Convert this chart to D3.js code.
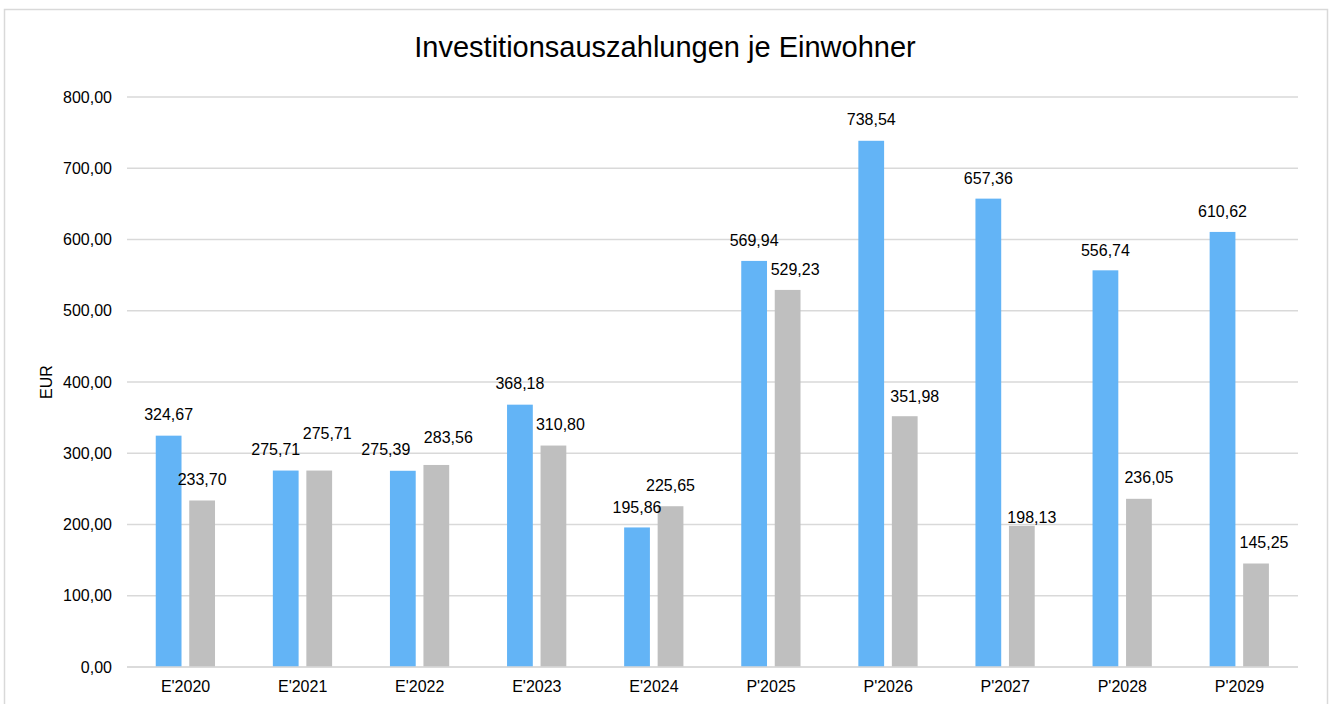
<!DOCTYPE html>
<html>
<head>
<meta charset="utf-8">
<script src="https://cdn.jsdelivr.net/npm/d3@7"></script>
<style>
  html, body { margin: 0; padding: 0; background: #fff; }
  svg { display: block; font-family: "Liberation Sans", Arial, sans-serif; }
</style>
</head>
<body>
<svg id="chart" width="1332" height="704"></svg>
<script>
// ---- data ----
const categories = ["E'2020", "E'2021", "E'2022", "E'2023", "E'2024", "P'2025", "P'2026", "P'2027", "P'2028", "P'2029"];
const seriesA = [324.67, 275.71, 275.39, 368.18, 195.86, 569.94, 738.54, 657.36, 556.74, 610.62];
const seriesB = [233.70, 275.71, 283.56, 310.80, 225.65, 529.23, 351.98, 198.13, 236.05, 145.25];
const yTicks = [0, 100, 200, 300, 400, 500, 600, 700, 800];
const titleText = "Investitionsauszahlungen je Einwohner";
const yAxisTitle = "EUR";

// label nudges (dx, dy in px relative to default position above bar)
const nudgeA = [[0,0],[-10,0],[-17,0],[0,0],[0,1],[0,0],[0,0],[0,1],[0,1],[0,0]];
const nudgeB = [[0,0],[8,-16],[12,-7],[7,0],[0,0],[7.5,0],[10,1],[10,13],[10,0],[8,0]];

const svg = d3.select("#chart");
const W = 1332, H = 704;
const m = { left: 127, right: 1298, top: 97, bottom: 667 };

// outer border
svg.append("rect")
  .attr("x", 4.5).attr("y", 9.5)
  .attr("width", 1323).attr("height", 720)
  .attr("fill", "#fff").attr("stroke", "#d9d9d9").attr("stroke-width", 1.5);

const x = d3.scaleBand().domain(categories).range([m.left, m.right]).paddingInner(0).paddingOuter(0);
const y = d3.scaleLinear().domain([0, 800]).range([m.bottom, m.top]);

const fmt = v => d3.format(".2f")(v).replace(".", ",");

// gridlines
svg.append("g").selectAll("line").data(yTicks).join("line")
  .attr("x1", m.left).attr("x2", m.right)
  .attr("y1", d => y(d)).attr("y2", d => y(d))
  .attr("stroke", "#d9d9d9").attr("stroke-width", 1.5);

// y tick labels
svg.append("g").selectAll("text").data(yTicks).join("text")
  .attr("x", 112).attr("y", d => y(d)).attr("dy", "0.35em")
  .attr("text-anchor", "end").attr("font-size", 16).attr("fill", "#000")
  .text(d => fmt(d));

// bars
const bw = x.bandwidth();
const barW = bw * 0.22;
const offA = -bw * 0.2545, offB = bw * 0.0316;
const cx = d => x(d) + bw / 2;

const gA = svg.append("g");
gA.selectAll("rect").data(categories).join("rect")
  .attr("x", (d) => cx(d) + offA)
  .attr("y", (d, i) => y(seriesA[i]))
  .attr("width", barW)
  .attr("height", (d, i) => y(0) - y(seriesA[i]))
  .attr("fill", "#63b4f6");

const gB = svg.append("g");
gB.selectAll("rect").data(categories).join("rect")
  .attr("x", (d) => cx(d) + offB)
  .attr("y", (d, i) => y(seriesB[i]))
  .attr("width", barW)
  .attr("height", (d, i) => y(0) - y(seriesB[i]))
  .attr("fill", "#bfbfbf");

// zero axis line on top
svg.append("line")
  .attr("x1", m.left).attr("x2", m.right)
  .attr("y1", y(0)).attr("y2", y(0))
  .attr("stroke", "#d9d9d9").attr("stroke-width", 1.5);

// value labels
svg.append("g").selectAll("text").data(categories).join("text")
  .attr("x", (d, i) => cx(d) + offA + barW / 2 + nudgeA[i][0])
  .attr("y", (d, i) => y(seriesA[i]) - 21 + nudgeA[i][1])
  .attr("dy", "0.35em").attr("text-anchor", "middle")
  .attr("font-size", 16).attr("fill", "#000")
  .text((d, i) => fmt(seriesA[i]));

svg.append("g").selectAll("text").data(categories).join("text")
  .attr("x", (d, i) => cx(d) + offB + barW / 2 + nudgeB[i][0])
  .attr("y", (d, i) => y(seriesB[i]) - 21 + nudgeB[i][1])
  .attr("dy", "0.35em").attr("text-anchor", "middle")
  .attr("font-size", 16).attr("fill", "#000")
  .text((d, i) => fmt(seriesB[i]));

// category labels
svg.append("g").selectAll("text").data(categories).join("text")
  .attr("x", d => cx(d)).attr("y", 692)
  .attr("text-anchor", "middle").attr("font-size", 16).attr("fill", "#000")
  .text(d => d);

// title
svg.append("text")
  .attr("x", 665).attr("y", 57)
  .attr("text-anchor", "middle").attr("font-size", 29).attr("fill", "#000")
  .text(titleText);

// y axis title
svg.append("text")
  .attr("transform", "translate(52,382) rotate(-90)")
  .attr("text-anchor", "middle").attr("font-size", 16).attr("fill", "#000")
  .text(yAxisTitle);
</script>
</body>
</html>
